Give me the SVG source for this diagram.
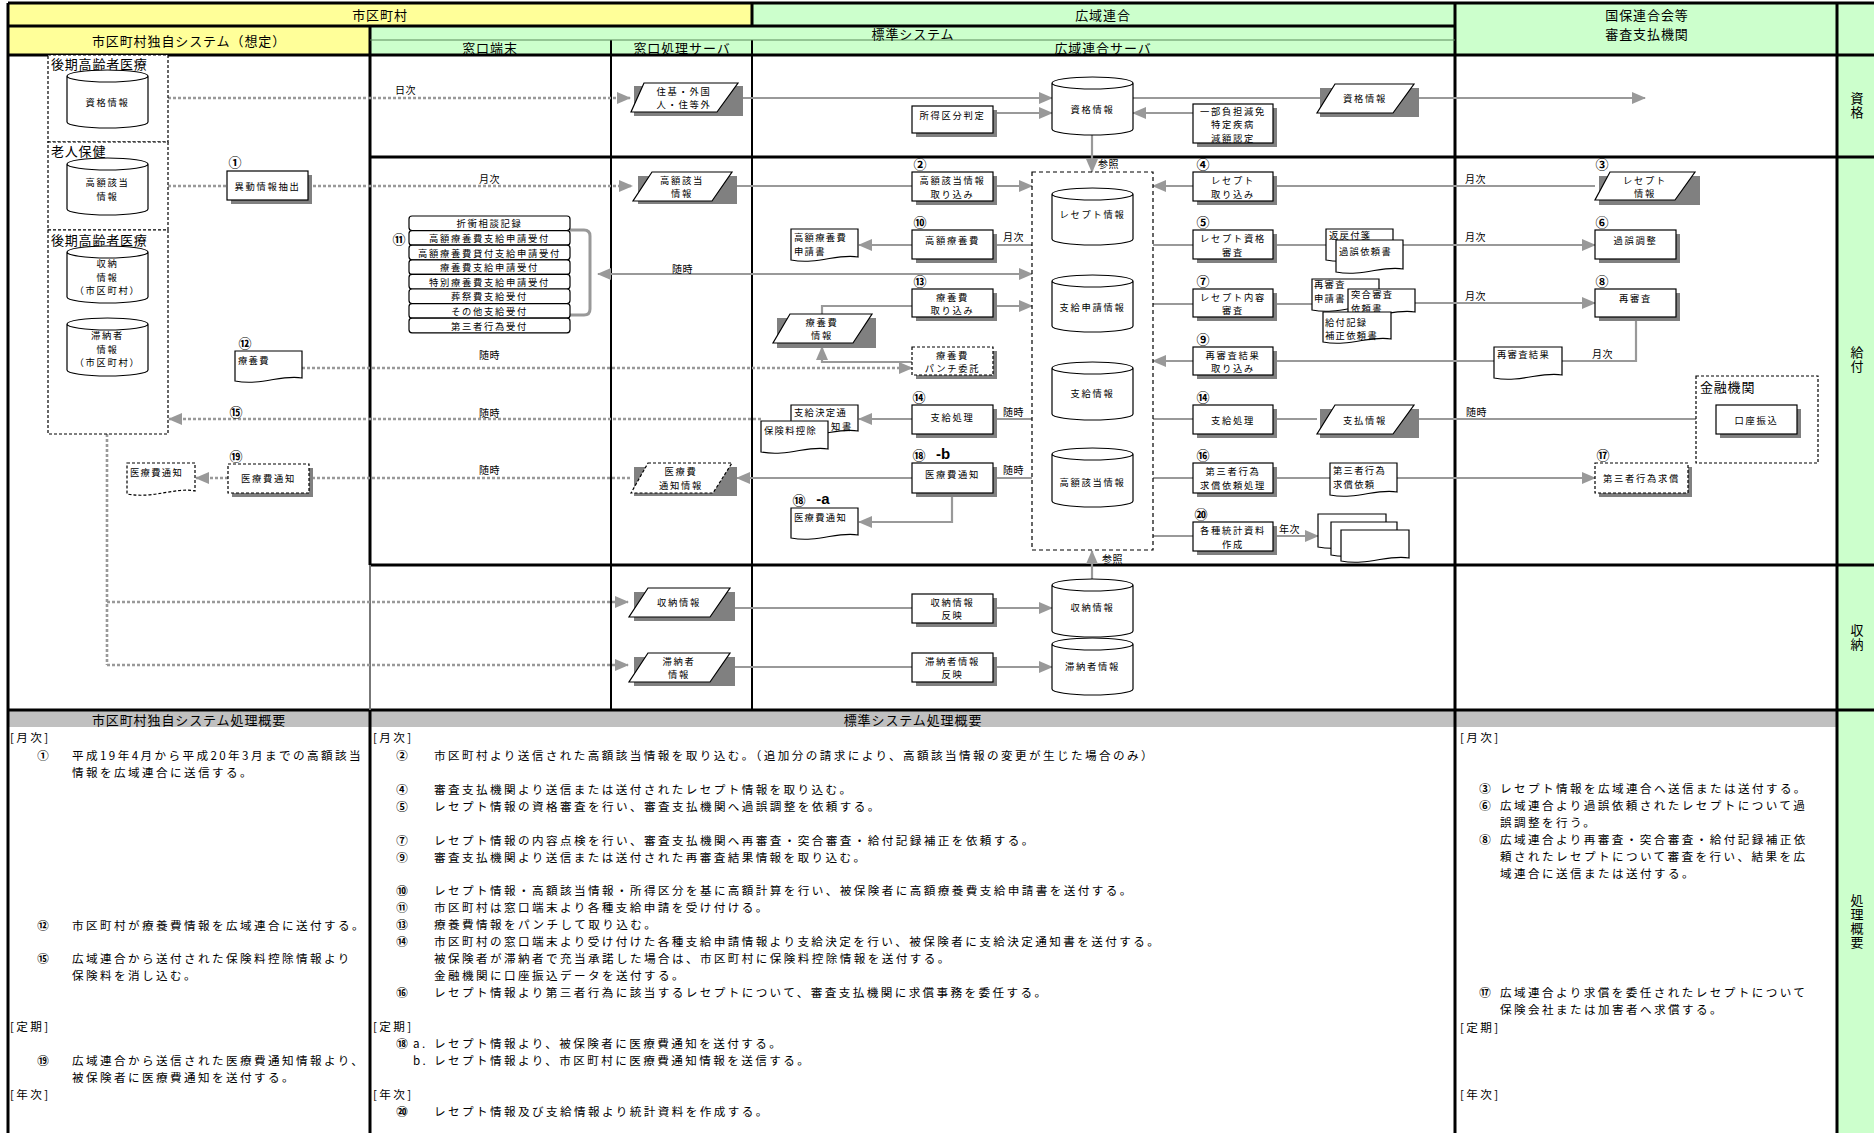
<svg xmlns="http://www.w3.org/2000/svg" width="1874" height="1133" viewBox="0 0 1874 1133">
<style>
text{font-family:"Noto Sans CJK JP","Noto Sans CJK SC",sans-serif;fill:#000}
.t{font-size:9.3px;letter-spacing:1.7px;text-anchor:middle;dominant-baseline:central}
.tl{font-size:9.3px;letter-spacing:1.3px;dominant-baseline:central}
.lb{font-size:10px;letter-spacing:0.5px;dominant-baseline:central}
.n{font-size:13px;font-weight:bold;text-anchor:middle;dominant-baseline:central}
.ab{font-family:"Liberation Sans",sans-serif;font-size:15px;font-weight:bold;text-anchor:middle;dominant-baseline:central}
.h{font-size:13px;letter-spacing:0.9px;text-anchor:middle;dominant-baseline:central}
.v{font-size:13px;letter-spacing:1px;writing-mode:vertical-rl;text-anchor:middle}
.sec{font-size:13px;letter-spacing:0.8px;dominant-baseline:central}
.p{font-size:11.6px;letter-spacing:2.4px;dominant-baseline:central}
.pn{font-size:11.5px;font-weight:bold;text-anchor:middle;dominant-baseline:central}
.bx{fill:#fff;stroke:#000;stroke-width:1.2}
.bxd{fill:#fff;stroke:#000;stroke-width:1.2;stroke-dasharray:3 2}
.sh{fill:#808080}
.ln{fill:none;stroke:#999;stroke-width:2.2}
.dt{fill:none;stroke:#999;stroke-width:2.6;stroke-dasharray:3 2}
.ar{marker-end:url(#ah)}
.g3{stroke:#000;stroke-width:3;fill:none}
.g2{stroke:#000;stroke-width:2;fill:none}
.cont{fill:none;stroke:#000;stroke-width:1.2;stroke-dasharray:4 3}
</style>
<defs>
<marker id="ah" viewBox="0 0 14 12" refX="13" refY="6" markerWidth="14" markerHeight="12" markerUnits="userSpaceOnUse" orient="auto-start-reverse"><path d="M0,0 L14,6 L0,12 Z" fill="#999"/></marker>
</defs>

<g id="frame">
<rect x="0" y="0" width="1874" height="1133" fill="#fff"/>
<rect x="8" y="3" width="744" height="23" fill="#FFFF99"/>
<rect x="752" y="3" width="703" height="23" fill="#CCFFCC"/>
<rect x="1455" y="3" width="382" height="52" fill="#CCFFCC"/>
<rect x="1837" y="3" width="37" height="1130" fill="#CCFFCC"/>
<rect x="8" y="26" width="362" height="29" fill="#FFFF99"/>
<rect x="370" y="26" width="1085" height="29" fill="#CCFFCC"/>
<rect x="8" y="711" width="1829" height="16" fill="#C0C0C0"/>
<path class="g3" d="M8,3 H1874 M8,26 H1455 M8,55 H1874 M370,157 H1874 M370,565 H1874 M8,710 H1874"/>
<path class="g3" d="M8,3 V1133 M1455,3 V1133 M1837,3 V1133 M752,3 V26 M370,26 V565 M370,710 V1133"/>
<path d="M370,565 V710" stroke="#777" stroke-width="2"/>
<path class="g2" d="M752,40 V710 M611,40 V710"/>
<path d="M370,40 H1455" stroke="#5a8a5a" stroke-width="1"/>
<text class="h" x="380" y="14">市区町村</text>
<text class="h" x="1103" y="14">広域連合</text>
<text class="h" x="1647" y="14">国保連合会等</text>
<text class="h" x="1647" y="33">審査支払機関</text>
<text class="h" x="189" y="40">市区町村独自システム（想定）</text>
<text class="h" x="913" y="33">標準システム</text>
<text class="h" x="490" y="47">窓口端末</text>
<text class="h" x="682" y="47">窓口処理サーバ</text>
<text class="h" x="1103" y="47">広域連合サーバ</text>
<text class="v" x="1857" y="106">資格</text>
<text class="v" x="1857" y="360">給付</text>
<text class="v" x="1857" y="638">収納</text>
<text class="v" x="1857" y="922">処理概要</text>
<text class="h" x="189" y="719">市区町村独自システム処理概要</text>
<text class="h" x="913" y="719">標準システム処理概要</text>
</g>

<g id="connectors">
<path class="ln ar" d="M743,98 H1052"/>
<path class="ln ar" d="M993,113 H1052"/>
<path class="ln ar" d="M1193,113 H1133"/>
<path class="ln" d="M1133,98 H1320"/>
<path class="ln ar" d="M1419,98 H1645"/>
<path class="ln ar" d="M1092,135 V172"/>
<path class="ln" d="M737,186 H912"/>
<path class="ln ar" d="M993,186 H1032"/>
<path class="ln ar" d="M1193,186 H1153"/>
<path class="ln" d="M1595,186 H1273"/>
<path class="ln" d="M1032,245 H993"/>
<path class="ln ar" d="M912,245 H859"/>
<path class="ln" d="M1153,245 H1193 M1273,245 H1326"/>
<path class="ln ar" d="M1403,245 H1595"/>
<path class="ln" d="M598,274 H1032" marker-start="url(#ah)" marker-end="url(#ah)"/>
<path class="ln ar" d="M993,306 H1032"/>
<path class="ln" d="M912,306 H822 V314"/>
<path class="ln" d="M1153,304 H1193 M1273,304 H1312"/>
<path class="ln ar" d="M1415,303 H1595"/>
<path class="ln" d="M1636,317 V361 H1562"/>
<path class="ln" d="M1494,361 H1273"/>
<path class="ln ar" d="M1193,361 H1153"/>
<path class="ln ar" d="M912,362 H822 V347"/>
<path class="ln" d="M1032,419 H993"/>
<path class="ln ar" d="M912,419 H859"/>
<path class="ln" d="M1153,419 H1193 M1273,419 H1317"/>
<path class="ln ar" d="M1419,419 H1716"/>
<path class="ln" d="M1032,478 H993"/>
<path class="ln ar" d="M912,478 H737"/>
<path class="ln ar" d="M952,493 V522 H859"/>
<path class="ln" d="M1153,478 H1193 M1273,478 H1330"/>
<path class="ln ar" d="M1397,478 H1595"/>
<path class="ln" d="M1153,536 H1193"/>
<path class="ln ar" d="M1273,536 H1318"/>
<path class="ln ar" d="M1092,579 V551"/>
<path class="ln" d="M735,608 H912"/>
<path class="ln ar" d="M993,608 H1052"/>
<path class="ln" d="M735,667 H912"/>
<path class="ln ar" d="M993,667 H1052"/>
<path class="dt ar" d="M168,98 H630"/>
<path class="dt" d="M168,186 H227"/>
<path class="dt ar" d="M308,186 H632"/>
<path class="dt ar" d="M302,368 H912"/>
<path class="dt ar" d="M761,419 H169"/>
<path class="dt" d="M630,478 H309"/>
<path class="dt ar" d="M228,478 H196"/>
<path class="dt" d="M107,434 V665"/>
<path class="dt ar" d="M107,602 H628"/>
<path class="dt ar" d="M107,665 H628"/>
<path d="M570,230 H584 Q590,230 590,236 V309 Q590,315 584,315 H570" fill="none" stroke="#999" stroke-width="3"/>
<text class="lb" x="395" y="89">日次</text>
<text class="lb" x="479" y="178">月次</text>
<text class="lb" x="479" y="354">随時</text>
<text class="lb" x="479" y="412">随時</text>
<text class="lb" x="479" y="469">随時</text>
<text class="lb" x="672" y="268">随時</text>
<text class="lb" x="1003" y="236">月次</text>
<text class="lb" x="1003" y="411">随時</text>
<text class="lb" x="1003" y="469">随時</text>
<text class="lb" x="1279" y="528">年次</text>
<text class="lb" x="1098" y="163">参照</text>
<text class="lb" x="1102" y="558">参照</text>
<text class="lb" x="1465" y="178">月次</text>
<text class="lb" x="1465" y="236">月次</text>
<text class="lb" x="1465" y="295">月次</text>
<text class="lb" x="1592" y="353">月次</text>
<text class="lb" x="1466" y="411">随時</text>
</g>

<g id="grp-kouki1"><rect class="bxd" x="48" y="55" width="120" height="87" fill="none"/><text class="sec" x="51" y="63">後期高齢者医療</text></g>
<g id="grp-rojin"><rect class="bxd" x="48" y="142" width="120" height="88" fill="none"/><text class="sec" x="51" y="150">老人保健</text></g>
<g id="grp-kouki2"><rect class="bxd" x="48" y="230" width="120" height="204" fill="none"/><text class="sec" x="51" y="239">後期高齢者医療</text></g>

<g id="db-shikaku-l"><path class="bx" d="M67,76 A40.5,6 0 0 1 148,76 V122 A40.5,6 0 0 1 67,122 Z M67,76 A40.5,6 0 0 0 148,76"/><text class="t" x="107.5" y="102">資格情報</text></g>
<g id="db-kougaku-l"><path class="bx" d="M67,164 A40.5,6 0 0 1 148,164 V209 A40.5,6 0 0 1 67,209 Z M67,164 A40.5,6 0 0 0 148,164"/><text class="t" x="107.5" y="182">高額該当</text><text class="t" x="107.5" y="196">情報</text></g>
<g id="db-shuno-l"><path class="bx" d="M67,252 A40.5,6 0 0 1 148,252 V297 A40.5,6 0 0 1 67,297 Z M67,252 A40.5,6 0 0 0 148,252"/><text class="t" x="107.5" y="263">収納</text><text class="t" x="107.5" y="276.5">情報</text><text class="t" x="107.5" y="290">（市区町村）</text></g>
<g id="db-tainou-l"><path class="bx" d="M67,324 A40.5,6 0 0 1 148,324 V370 A40.5,6 0 0 1 67,370 Z M67,324 A40.5,6 0 0 0 148,324"/><text class="t" x="107.5" y="335">滞納者</text><text class="t" x="107.5" y="348.5">情報</text><text class="t" x="107.5" y="362">（市区町村）</text></g>

<g id="n1"><text class="n" x="235" y="161">①</text><rect class="sh" x="231" y="175" width="81" height="29"/><rect class="bx" x="227" y="171" width="81" height="29"/><text class="t" x="267.5" y="186">異動情報抽出</text></g>
<g id="n12"><text class="n" x="245" y="342">⑫</text><path class="bx" d="M235,351 H302 V378 C282,374 262,386 235,381 Z"/><text class="tl" x="238" y="360">療養費</text></g>
<g id="n15"><text class="n" x="236" y="411">⑮</text></g>
<g id="n19"><text class="n" x="236" y="455">⑲</text><rect class="sh" x="232" y="468" width="81" height="29"/><rect class="bxd" x="228" y="464" width="81" height="29"/><text class="t" x="268.5" y="478">医療費通知</text></g>
<g id="doc-iryohi-l"><path class="bxd" d="M127,463 H195 V491 C175,487 154,499 127,494 Z"/><text class="tl" x="130" y="472">医療費通知</text></g>

<g id="n11-list">
<text class="n" x="399" y="238">⑪</text>
<rect class="bx" x="409" y="216" width="161" height="14.6" rx="3"/><text class="t" x="489.5" y="223.3">折衝相談記録</text>
<rect class="bx" x="409" y="230.6" width="161" height="14.6" rx="3"/><text class="t" x="489.5" y="237.9">高額療養費支給申請受付</text>
<rect class="bx" x="409" y="245.2" width="161" height="14.6" rx="3"/><text class="t" x="489.5" y="252.5">高額療養費貸付支給申請受付</text>
<rect class="bx" x="409" y="259.8" width="161" height="14.6" rx="3"/><text class="t" x="489.5" y="267.1">療養費支給申請受付</text>
<rect class="bx" x="409" y="274.4" width="161" height="14.6" rx="3"/><text class="t" x="489.5" y="281.7">特別療養費支給申請受付</text>
<rect class="bx" x="409" y="289" width="161" height="14.6" rx="3"/><text class="t" x="489.5" y="296.3">葬祭費支給受付</text>
<rect class="bx" x="409" y="303.6" width="161" height="14.6" rx="3"/><text class="t" x="489.5" y="310.9">その他支給受付</text>
<rect class="bx" x="409" y="318.2" width="161" height="14.6" rx="3"/><text class="t" x="489.5" y="325.5">第三者行為受付</text>
</g>

<g id="pl-juki"><rect class="sh" x="634" y="86" width="109" height="30"/><path class="bx" d="M644,83 H738 L717,112 H631 Z"/><text class="t" x="684" y="90.5">住基・外国</text><text class="t" x="684" y="104">人・住等外</text></g>
<g id="pl-kougaku"><rect class="sh" x="638" y="176" width="99" height="28"/><path class="bx" d="M652,172 H732 L712,201 H633 Z"/><text class="t" x="682" y="179.5">高額該当</text><text class="t" x="682" y="193">情報</text></g>
<g id="pl-ryoyohi"><rect class="sh" x="777" y="318" width="99" height="30"/><path class="bx" d="M790,314 H872 L853,343 H773 Z"/><text class="t" x="822" y="321.5">療養費</text><text class="t" x="822" y="335">情報</text></g>
<g id="pl-iryotsuchi"><rect class="sh" x="634" y="467" width="103" height="29"/><path class="bxd" d="M648,463 H732 L713,493 H631 Z"/><text class="t" x="681" y="471">医療費</text><text class="t" x="681" y="484.5">通知情報</text></g>
<g id="pl-shuno"><rect class="sh" x="634" y="592" width="101" height="29"/><path class="bx" d="M648,588 H730 L710,617 H629 Z"/><text class="t" x="679" y="602">収納情報</text></g>
<g id="pl-tainou"><rect class="sh" x="634" y="657" width="101" height="29"/><path class="bx" d="M648,653 H730 L710,682 H629 Z"/><text class="t" x="679" y="660.5">滞納者</text><text class="t" x="679" y="674">情報</text></g>

<g id="doc-kougaku-shinsei"><path class="bx" d="M791,229 H858 V257 C838,253 818,265 791,260 Z"/><text class="tl" x="794" y="237">高額療養費</text><text class="tl" x="794" y="250.5">申請書</text></g>
<g id="doc-shikyu-kettei"><path class="bx" d="M791,405 H858 V431 C838,427 818,439 791,434 Z"/><text class="tl" x="794" y="412">支給決定通</text><text class="t" x="842" y="425.5">知書</text></g>
<g id="doc-hokenryo"><path class="bx" d="M761,421 H828 V449 C808,445 788,457 761,452 Z"/><text class="tl" x="764" y="430">保険料控除</text></g>
<g id="doc-iryohi-a"><text class="n" x="799" y="499">⑱</text><text class="ab" x="823" y="498">-a</text><path class="bx" d="M791,508 H858 V535 C838,531 818,543 791,538 Z"/><text class="tl" x="794" y="517">医療費通知</text></g>

<g id="n-shotoku"><rect class="sh" x="916" y="110" width="81" height="27"/><rect class="bx" x="912" y="106" width="81" height="27"/><text class="t" x="952.5" y="115">所得区分判定</text></g>
<g id="n2"><text class="n" x="920" y="163">②</text><rect class="sh" x="916" y="176" width="81" height="29"/><rect class="bx" x="912" y="172" width="81" height="29"/><text class="t" x="952.5" y="180">高額該当情報</text><text class="t" x="952.5" y="193.5">取り込み</text></g>
<g id="n10"><text class="n" x="920" y="221">⑩</text><rect class="sh" x="916" y="234" width="81" height="29"/><rect class="bx" x="912" y="230" width="81" height="29"/><text class="t" x="952.5" y="240">高額療養費</text></g>
<g id="n13"><text class="n" x="920" y="280">⑬</text><rect class="sh" x="916" y="293" width="81" height="28"/><rect class="bx" x="912" y="289" width="81" height="28"/><text class="t" x="952.5" y="296.5">療養費</text><text class="t" x="952.5" y="310">取り込み</text></g>
<g id="n-punch"><rect class="sh" x="916" y="351" width="81" height="28"/><rect class="bxd" x="912" y="347" width="81" height="28"/><text class="t" x="952.5" y="354.5">療養費</text><text class="t" x="952.5" y="368">パンチ委託</text></g>
<g id="n14a"><text class="n" x="919" y="396">⑭</text><rect class="sh" x="916" y="409" width="81" height="29"/><rect class="bx" x="912" y="405" width="81" height="29"/><text class="t" x="952.5" y="417">支給処理</text></g>
<g id="n18b"><text class="n" x="919" y="454">⑱</text><text class="ab" x="943" y="453">-b</text><rect class="sh" x="916" y="467" width="81" height="30"/><rect class="bx" x="912" y="463" width="81" height="30"/><text class="t" x="952.5" y="474">医療費通知</text></g>
<g id="n-shuno-hanei"><rect class="sh" x="916" y="598" width="81" height="29"/><rect class="bx" x="912" y="594" width="81" height="29"/><text class="t" x="952.5" y="601.5">収納情報</text><text class="t" x="952.5" y="615">反映</text></g>
<g id="n-tainou-hanei"><rect class="sh" x="916" y="657" width="81" height="29"/><rect class="bx" x="912" y="653" width="81" height="29"/><text class="t" x="952.5" y="660.5">滞納者情報</text><text class="t" x="952.5" y="674">反映</text></g>

<g id="db-shikaku-c"><path class="bx" d="M1052,83 A40.5,6 0 0 1 1133,83 V129 A40.5,6 0 0 1 1052,129 Z M1052,83 A40.5,6 0 0 0 1133,83"/><text class="t" x="1092.5" y="109">資格情報</text></g>
<g id="container"><rect class="cont" x="1032" y="172" width="121" height="378"/></g>
<g id="db-receipt"><path class="bx" d="M1052,194 A40.5,6 0 0 1 1133,194 V239 A40.5,6 0 0 1 1052,239 Z M1052,194 A40.5,6 0 0 0 1133,194"/><text class="t" x="1092.5" y="214">レセプト情報</text></g>
<g id="db-shikyu-shinsei"><path class="bx" d="M1052,281 A40.5,6 0 0 1 1133,281 V326 A40.5,6 0 0 1 1052,326 Z M1052,281 A40.5,6 0 0 0 1133,281"/><text class="t" x="1092.5" y="307">支給申請情報</text></g>
<g id="db-shikyu"><path class="bx" d="M1052,368 A40.5,6 0 0 1 1133,368 V414 A40.5,6 0 0 1 1052,414 Z M1052,368 A40.5,6 0 0 0 1133,368"/><text class="t" x="1092.5" y="393">支給情報</text></g>
<g id="db-kougaku-c"><path class="bx" d="M1052,454 A40.5,6 0 0 1 1133,454 V501 A40.5,6 0 0 1 1052,501 Z M1052,454 A40.5,6 0 0 0 1133,454"/><text class="t" x="1092.5" y="482">高額該当情報</text></g>
<g id="db-shuno-c"><path class="bx" d="M1052,585 A40.5,6 0 0 1 1133,585 V631 A40.5,6 0 0 1 1052,631 Z M1052,585 A40.5,6 0 0 0 1133,585"/><text class="t" x="1092.5" y="607">収納情報</text></g>
<g id="db-tainou-c"><path class="bx" d="M1052,644 A40.5,6 0 0 1 1133,644 V689 A40.5,6 0 0 1 1052,689 Z M1052,644 A40.5,6 0 0 0 1133,644"/><text class="t" x="1092.5" y="666">滞納者情報</text></g>

<g id="n-genmen"><rect class="sh" x="1197" y="108" width="80" height="39"/><rect class="bx" x="1193" y="104" width="80" height="39"/><text class="t" x="1233" y="110.5">一部負担減免</text><text class="t" x="1233" y="124">特定疾病</text><text class="t" x="1233" y="137.5">減額認定</text></g>
<g id="n4"><text class="n" x="1203" y="163">④</text><rect class="sh" x="1197" y="176" width="80" height="29"/><rect class="bx" x="1193" y="172" width="80" height="29"/><text class="t" x="1233" y="180">レセプト</text><text class="t" x="1233" y="193.5">取り込み</text></g>
<g id="n5"><text class="n" x="1203" y="221">⑤</text><rect class="sh" x="1197" y="234" width="80" height="29"/><rect class="bx" x="1193" y="230" width="80" height="29"/><text class="t" x="1233" y="238">レセプト資格</text><text class="t" x="1233" y="251.5">審査</text></g>
<g id="n7"><text class="n" x="1203" y="280">⑦</text><rect class="sh" x="1197" y="293" width="80" height="28"/><rect class="bx" x="1193" y="289" width="80" height="28"/><text class="t" x="1233" y="296.5">レセプト内容</text><text class="t" x="1233" y="310">審査</text></g>
<g id="n9"><text class="n" x="1203" y="338">⑨</text><rect class="sh" x="1197" y="351" width="80" height="28"/><rect class="bx" x="1193" y="347" width="80" height="28"/><text class="t" x="1233" y="354.5">再審査結果</text><text class="t" x="1233" y="368">取り込み</text></g>
<g id="n14b"><text class="n" x="1203" y="396">⑭</text><rect class="sh" x="1197" y="409" width="80" height="29"/><rect class="bx" x="1193" y="405" width="80" height="29"/><text class="t" x="1233" y="420">支給処理</text></g>
<g id="n16"><text class="n" x="1203" y="454">⑯</text><rect class="sh" x="1197" y="467" width="80" height="30"/><rect class="bx" x="1193" y="463" width="80" height="30"/><text class="t" x="1233" y="471">第三者行為</text><text class="t" x="1233" y="484.5">求償依頼処理</text></g>
<g id="n20"><text class="n" x="1201" y="513">⑳</text><rect class="sh" x="1197" y="526" width="80" height="29"/><rect class="bx" x="1193" y="522" width="80" height="29"/><text class="t" x="1233" y="530">各種統計資料</text><text class="t" x="1233" y="543.5">作成</text></g>

<g id="pl-shikaku-r"><rect class="sh" x="1320" y="88" width="99" height="29"/><path class="bx" d="M1335,84 H1414 L1393,113 H1317 Z"/><text class="t" x="1365" y="98">資格情報</text></g>
<g id="docs-kago"><path class="bx" d="M1326,229 H1393 V257 C1373,253 1353,265 1326,260 Z"/><text class="tl" x="1329" y="235">返戻付箋</text><path class="bx" d="M1336,240 H1403 V269 C1383,265 1363,277 1336,272 Z"/><text class="tl" x="1339" y="251">過誤依頼書</text></g>
<g id="docs-saishinsa"><path class="bx" d="M1312,279 H1379 V307 C1359,303 1339,315 1312,310 Z"/><text class="tl" x="1314" y="284">再審査</text><text class="tl" x="1314" y="297.5">申請書</text><path class="bx" d="M1348,289 H1415 V312 C1395,308 1375,320 1348,315 Z"/><text class="tl" x="1351" y="294">突合審査</text><text class="tl" x="1351" y="307.5">依頼書</text><path class="bx" d="M1323,312 H1391 V339 C1371,335 1350,347 1323,342 Z"/><text class="tl" x="1325" y="321.5">給付記録</text><text class="tl" x="1325" y="335">補正依頼書</text></g>
<g id="pl-shiharai"><rect class="sh" x="1320" y="409" width="99" height="29"/><path class="bx" d="M1335,405 H1414 L1393,434 H1317 Z"/><text class="t" x="1365" y="420">支払情報</text></g>
<g id="doc-daisansha"><path class="bx" d="M1330,463 H1397 V492 C1377,488 1357,500 1330,495 Z"/><text class="tl" x="1333" y="470">第三者行為</text><text class="tl" x="1333" y="483.5">求償依頼</text></g>
<g id="docs-toukei"><path class="bx" d="M1318,514 H1386 V544 C1366,540 1345,552 1318,547 Z"/><path class="bx" d="M1331,522 H1397 V552 C1377,548 1357,560 1331,555 Z"/><path class="bx" d="M1341,530 H1409 V558 C1389,554 1368,566 1341,561 Z"/></g>

<g id="n3"><text class="n" x="1602" y="163">③</text><rect class="sh" x="1599" y="176" width="101" height="29"/><path class="bx" d="M1610,172 H1695 L1675,200 H1595 Z"/><text class="t" x="1645" y="179.5">レセプト</text><text class="t" x="1645" y="193">情報</text></g>
<g id="n6"><text class="n" x="1602" y="221">⑥</text><rect class="sh" x="1599" y="234" width="81" height="29"/><rect class="bx" x="1595" y="230" width="81" height="29"/><text class="t" x="1635.5" y="240">過誤調整</text></g>
<g id="n8"><text class="n" x="1602" y="280">⑧</text><rect class="sh" x="1599" y="293" width="81" height="28"/><rect class="bx" x="1595" y="289" width="81" height="28"/><text class="t" x="1635.5" y="298">再審査</text></g>
<g id="doc-saishinsa-kekka"><path class="bx" d="M1494,347 H1562 V375 C1542,371 1521,383 1494,378 Z"/><text class="tl" x="1497" y="354">再審査結果</text></g>
<g id="grp-kinyu"><rect class="bxd" x="1696" y="376" width="122" height="87" fill="none"/><text class="sec" x="1700" y="386">金融機関</text><rect class="sh" x="1720" y="409" width="81" height="29"/><rect class="bx" x="1716" y="405" width="81" height="29"/><text class="t" x="1756.5" y="420">口座振込</text></g>
<g id="n17"><text class="n" x="1603" y="454">⑰</text><rect class="sh" x="1599" y="467" width="93" height="30"/><rect class="bxd" x="1595" y="463" width="93" height="30"/><text class="t" x="1641.5" y="478">第三者行為求償</text></g>

<g id="summary-left">
<text class="p" x="10" y="737">[月次]</text>
<text class="pn" x="43" y="755">①</text><text class="p" x="72" y="755">平成19年4月から平成20年3月までの高額該当</text>
<text class="p" x="72" y="772">情報を広域連合に送信する。</text>
<text class="pn" x="43" y="925">⑫</text><text class="p" x="72" y="925">市区町村が療養費情報を広域連合に送付する。</text>
<text class="pn" x="43" y="958">⑮</text><text class="p" x="72" y="958">広域連合から送付された保険料控除情報より</text>
<text class="p" x="72" y="975">保険料を消し込む。</text>
<text class="p" x="10" y="1026">[定期]</text>
<text class="pn" x="43" y="1060">⑲</text><text class="p" x="72" y="1060">広域連合から送信された医療費通知情報より、</text>
<text class="p" x="72" y="1077">被保険者に医療費通知を送付する。</text>
<text class="p" x="10" y="1094">[年次]</text>
</g>
<g id="summary-std">
<text class="p" x="373" y="737">[月次]</text>
<text class="pn" x="402" y="755">②</text><text class="p" x="434" y="755">市区町村より送信された高額該当情報を取り込む。（追加分の請求により、高額該当情報の変更が生じた場合のみ）</text>
<text class="pn" x="402" y="789">④</text><text class="p" x="434" y="789">審査支払機関より送信または送付されたレセプト情報を取り込む。</text>
<text class="pn" x="402" y="806">⑤</text><text class="p" x="434" y="806">レセプト情報の資格審査を行い、審査支払機関へ過誤調整を依頼する。</text>
<text class="pn" x="402" y="840">⑦</text><text class="p" x="434" y="840">レセプト情報の内容点検を行い、審査支払機関へ再審査・突合審査・給付記録補正を依頼する。</text>
<text class="pn" x="402" y="857">⑨</text><text class="p" x="434" y="857">審査支払機関より送信または送付された再審査結果情報を取り込む。</text>
<text class="pn" x="402" y="890">⑩</text><text class="p" x="434" y="890">レセプト情報・高額該当情報・所得区分を基に高額計算を行い、被保険者に高額療養費支給申請書を送付する。</text>
<text class="pn" x="402" y="907">⑪</text><text class="p" x="434" y="907">市区町村は窓口端末より各種支給申請を受け付ける。</text>
<text class="pn" x="402" y="924">⑬</text><text class="p" x="434" y="924">療養費情報をパンチして取り込む。</text>
<text class="pn" x="402" y="941">⑭</text><text class="p" x="434" y="941">市区町村の窓口端末より受け付けた各種支給申請情報より支給決定を行い、被保険者に支給決定通知書を送付する。</text>
<text class="p" x="434" y="958">被保険者が滞納者で充当承諾した場合は、市区町村に保険料控除情報を送付する。</text>
<text class="p" x="434" y="975">金融機関に口座振込データを送付する。</text>
<text class="pn" x="402" y="992">⑯</text><text class="p" x="434" y="992">レセプト情報より第三者行為に該当するレセプトについて、審査支払機関に求償事務を委任する。</text>
<text class="p" x="373" y="1026">[定期]</text>
<text class="pn" x="402" y="1043">⑱</text><text class="p" x="413" y="1043">a.</text><text class="p" x="434" y="1043">レセプト情報より、被保険者に医療費通知を送付する。</text>
<text class="p" x="413" y="1060">b.</text><text class="p" x="434" y="1060">レセプト情報より、市区町村に医療費通知情報を送信する。</text>
<text class="p" x="373" y="1094">[年次]</text>
<text class="pn" x="402" y="1111">⑳</text><text class="p" x="434" y="1111">レセプト情報及び支給情報より統計資料を作成する。</text>
</g>
<g id="summary-right">
<text class="p" x="1460" y="737">[月次]</text>
<text class="pn" x="1485" y="788">③</text><text class="p" x="1500" y="788">レセプト情報を広域連合へ送信または送付する。</text>
<text class="pn" x="1485" y="805">⑥</text><text class="p" x="1500" y="805">広域連合より過誤依頼されたレセプトについて過</text>
<text class="p" x="1500" y="822">誤調整を行う。</text>
<text class="pn" x="1485" y="839">⑧</text><text class="p" x="1500" y="839">広域連合より再審査・突合審査・給付記録補正依</text>
<text class="p" x="1500" y="856">頼されたレセプトについて審査を行い、結果を広</text>
<text class="p" x="1500" y="873">域連合に送信または送付する。</text>
<text class="pn" x="1485" y="992">⑰</text><text class="p" x="1500" y="992">広域連合より求償を委任されたレセプトについて</text>
<text class="p" x="1500" y="1009">保険会社または加害者へ求償する。</text>
<text class="p" x="1460" y="1027">[定期]</text>
<text class="p" x="1460" y="1094">[年次]</text>
</g>
</svg>
